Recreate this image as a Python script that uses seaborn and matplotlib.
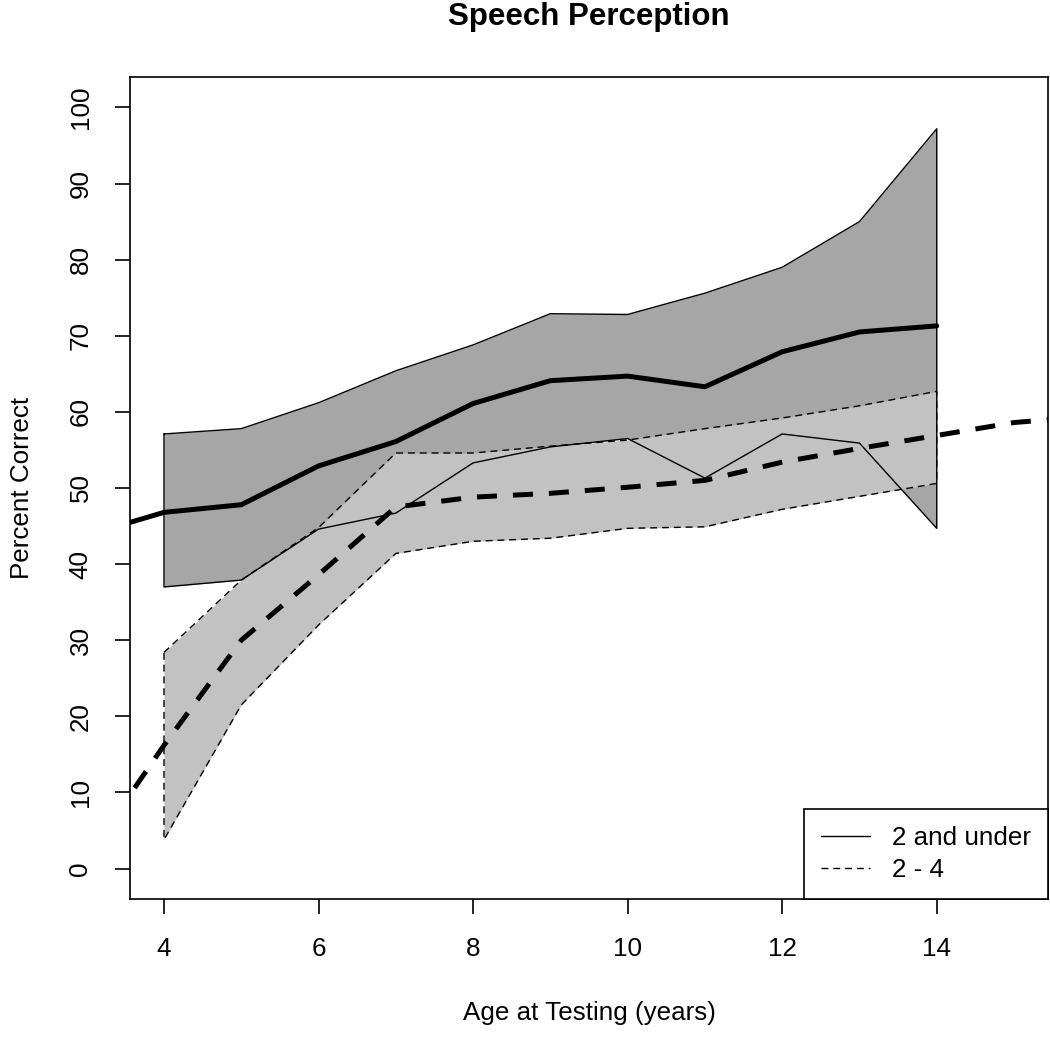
import numpy as np
import pandas as pd
import matplotlib
matplotlib.use("Agg")
import matplotlib.pyplot as plt
from matplotlib.lines import Line2D
import seaborn as sns

# ages where the bands were computed
ages = [4, 5, 6, 7, 8, 9, 10, 11, 12, 13, 14]

# "2 and under" group band
under2_upper = [57.1, 57.8, 61.2, 65.4, 68.8, 72.9, 72.8, 75.6, 79.0, 85.0, 97.2]
under2_lower = [37.0, 37.9, 44.6, 46.7, 53.3, 55.4, 56.5, 51.3, 57.1, 55.9, 44.7]

# "2 - 4" group band
g24_upper = [28.4, 37.9, 44.8, 54.6, 54.6, 55.5, 56.3, 57.8, 59.2, 60.8, 62.7]
g24_lower = [3.8, 21.5, 32.0, 41.4, 43.0, 43.4, 44.7, 44.9, 47.2, 48.9, 50.6]

# fitted curves
fit_under2_x = [3.5, 4, 5, 6, 7, 8, 9, 10, 11, 12, 13, 14]
fit_under2_y = [45.3, 46.8, 47.8, 52.9, 56.1, 61.1, 64.1, 64.7, 63.3, 67.9, 70.5, 71.3]
fit_24_x = [3.62, 4, 5, 6, 7, 8, 9, 10, 11, 12, 13, 14, 15, 15.6]
fit_24_y = [10.6, 16.2, 30.0, 38.6, 47.5, 48.8, 49.3, 50.1, 51.0, 53.4, 55.2, 56.9, 58.6, 59.1]

legend_labels = ["2 and under", "2 - 4"]

sns.set_theme(style="white")
plt.rcParams["font.family"] = ["Liberation Sans", "DejaVu Sans"]
plt.rcParams["text.color"] = "black"

fig = plt.figure(figsize=(10.5, 10.37), dpi=100)
ax = fig.add_axes([130 / 1050, 138 / 1037, 918 / 1050, 822 / 1037])

dark = "#a6a6a6"
light = "#c2c2c2"
fs = 18.7


def outline(xs, up, lo):
    # closed polygon path from the band arrays
    px = list(xs) + list(xs[::-1]) + [xs[0]]
    py = list(up) + list(lo[::-1]) + [up[0]]
    return pd.DataFrame({"x": px, "y": py})


ax.fill_between(ages, under2_lower, under2_upper, color=dark, lw=0, zorder=1)
ax.fill_between(ages, g24_lower, g24_upper, color=light, lw=0, zorder=2)

o1 = outline(ages, under2_upper, under2_lower)
o2 = outline(ages, g24_upper, g24_lower)
sns.lineplot(data=o1, x="x", y="y", sort=False, estimator=None, ax=ax,
             color="black", lw=1.0, zorder=3)
sns.lineplot(data=o2, x="x", y="y", sort=False, estimator=None, ax=ax,
             color="black", lw=1.0, linestyle=(0, (5, 3.5)), zorder=3)

sns.lineplot(x=fit_under2_x, y=fit_under2_y, ax=ax, color="black", lw=3.6,
             sort=False, estimator=None, zorder=4)
sns.lineplot(x=fit_24_x, y=fit_24_y, ax=ax, color="black", lw=3.6,
             sort=False, estimator=None, linestyle=(0, (4, 3.2)), zorder=4)

ax.set_xlim(3.56, 15.44)
ax.set_ylim(-4, 104)
ax.set_xticks([4, 6, 8, 10, 12, 14])
ax.set_yticks(np.arange(0, 101, 10))
ax.tick_params(axis="both", direction="out", length=11, width=1.2,
               color="black", labelsize=fs, labelcolor="black", pad=16,
               bottom=True, left=True)
for lab in ax.get_yticklabels():
    lab.set_rotation(90)
    lab.set_va("center")
for s in ax.spines.values():
    s.set_color("black")
    s.set_linewidth(1.2)
ax.set_xlabel("")
ax.set_ylabel("")

fig.text(589 / 1050, 1 - 17 / 1037, "Speech Perception", ha="center",
         va="center", fontsize=22.5, fontweight="bold", color="black")
fig.text(589 / 1050, 1 - 1013 / 1037, "Age at Testing (years)", ha="center",
         va="center", fontsize=fs, color="black")
fig.text(22 / 1050, 1 - 488 / 1037, "Percent Correct", ha="center",
         va="center", fontsize=fs, rotation=90, color="black")

handles = [Line2D([], [], color="black", lw=1.0),
           Line2D([], [], color="black", lw=1.0, linestyle=(0, (5, 3.5)))]
leg = ax.legend(handles, legend_labels, loc="lower right",
                bbox_to_anchor=(1, 0), borderaxespad=0, fontsize=fs,
                frameon=True, fancybox=False, framealpha=1, edgecolor="black",
                handlelength=1.9, handletextpad=0.85, borderpad=0.65,
                labelspacing=0.3)
leg.get_frame().set_linewidth(1.2)
leg.set_zorder(10)
for t in leg.get_texts():
    t.set_color("black")

fig.savefig("out.png", dpi=100)
